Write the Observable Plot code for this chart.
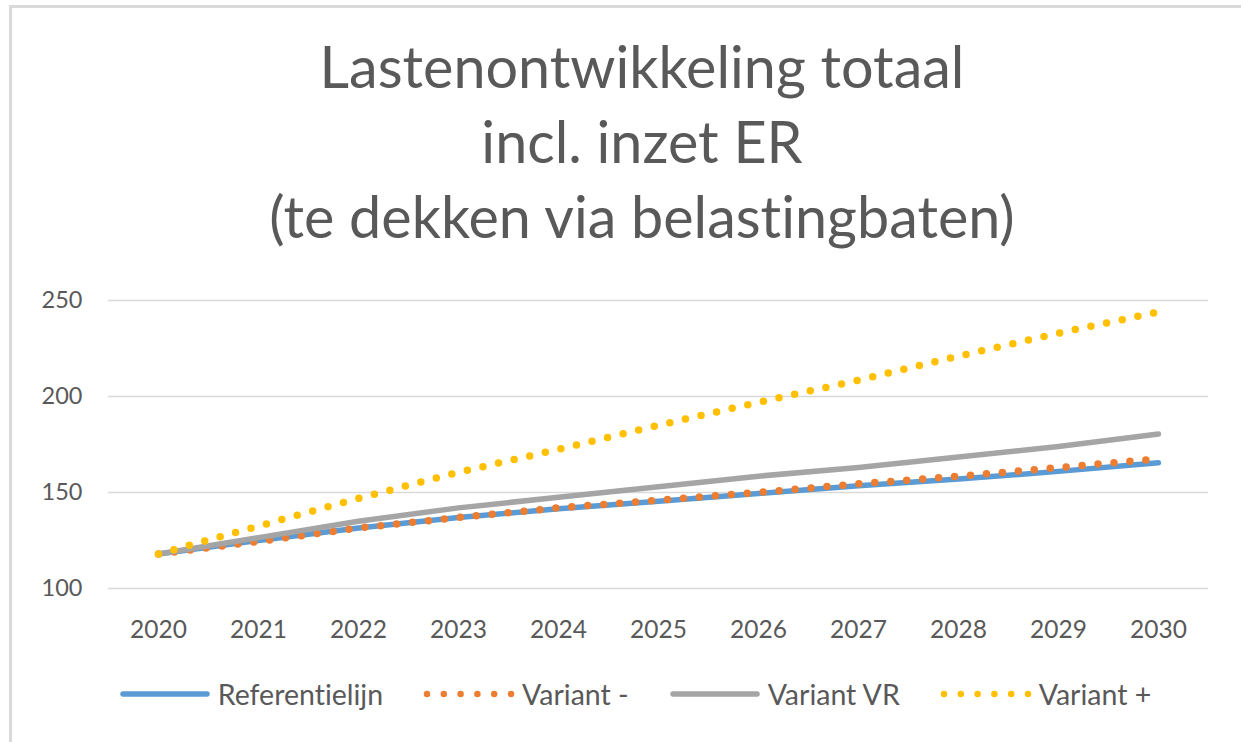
<!DOCTYPE html>
<html>
<head>
<meta charset="utf-8">
<script src="https://cdn.jsdelivr.net/npm/d3@7"></script>
<script src="https://cdn.jsdelivr.net/npm/@observablehq/plot@0.6"></script>
<style>
  html, body { margin: 0; padding: 0; background: #fff; }
  body { width: 1241px; height: 742px; position: relative; overflow: hidden; font-family: Lato, "Open Sans", sans-serif; color: #595959; font-variant-ligatures: none; }
  svg text { font-variant-ligatures: none; }
  #frame { position: absolute; left: 9px; top: 5px; width: 1300px; height: 800px; border-top: 3px solid #d9d9d9; border-left: 3px solid #d9d9d9; box-sizing: border-box; }
  #title { position: absolute; left: 342px; width: 600px; top: 28px; text-align: center; font-weight: 400; font-size: 57.5px; line-height: 75px; white-space: nowrap; }
  #title div { margin-left: -300px; margin-right: -300px; }
  #chart { position: absolute; left: 0; top: 280px; }
  #legend { position: absolute; left: 0; width: 1270px; top: 675px; display: flex; justify-content: center; gap: 40px; font-size: 28.5px; line-height: 38px; }
  .item { display: flex; align-items: center; gap: 7px; white-space: nowrap; }
  .item svg { display: block; }
</style>
</head>
<body>
<div id="frame"></div>
<div id="title"></div>
<div id="chart"></div>
<div id="legend"></div>
<script>
// ---- data ----
const titleLines = ["Lastenontwikkeling totaal", "incl. inzet ER", "(te dekken via belastingbaten)"];
const years = ["2020", "2021", "2022", "2023", "2024", "2025", "2026", "2027", "2028", "2029", "2030"];
const referentielijn = [118, 125, 131.5, 137, 141.5, 145.5, 149.5, 153.5, 157, 161, 165.5];
const variantMin     = [118, 124.5, 131.5, 137, 142, 146, 150, 154.5, 158.5, 163, 167.5];
const variantVR      = [118, 126.5, 135, 142, 147.5, 153, 158.5, 163, 168.5, 174, 180.5];
const variantPlus    = [118, 132.5, 147, 160.5, 172.5, 185, 197, 208.5, 221, 233, 244];
const seriesNames = ["Referentielijn", "Variant -", "Variant VR", "Variant +"];
const yTicks = [100, 150, 200, 250];

const seriesValues = [referentielijn, variantMin, variantVR, variantPlus];
const seriesColors = ["#5B9BD5", "#ED7D31", "#A5A5A5", "#FFC000"];
const seriesDotted = [false, true, false, true];

const rows = seriesNames.flatMap((name, s) =>
  years.map((year, i) => ({ series: name, year, value: seriesValues[s][i] })));

// ---- title ----
const titleEl = document.getElementById("title");
titleLines.forEach(t => { const d = document.createElement("div"); d.textContent = t; titleEl.appendChild(d); });

// ---- chart ----
const lineMarks = seriesNames.map((name, s) =>
  Plot.line(rows.filter(r => r.series === name), {
    x: "year", y: "value",
    stroke: seriesColors[s],
    strokeWidth: seriesDotted[s] ? 7.5 : 5.5,
    strokeDasharray: seriesDotted[s] ? "0 16" : null,
    strokeLinecap: "round",
    strokeLinejoin: "round"
  }));

const chart = Plot.plot({
  width: 1241,
  height: 380,
  marginLeft: 108,
  marginRight: 33,
  marginTop: 20,
  marginBottom: 72,
  style: { fontFamily: "Lato, 'Open Sans', sans-serif", color: "#595959", background: "transparent", overflow: "visible" },
  x: { type: "point", domain: years, padding: 0.5, label: null },
  y: { domain: [100, 250], label: null },
  marks: [
    Plot.gridY(yTicks, { stroke: "#d9d9d9", strokeOpacity: 1, strokeWidth: 1.5 }),
    ...lineMarks,
    Plot.axisY(yTicks, { tickSize: 0, tickPadding: 26, fontSize: 23.5, label: null }),
    Plot.axisX({ tickSize: 0, tickPadding: 32, fontSize: 24.5, label: null })
  ]
});
document.getElementById("chart").appendChild(chart);

// ---- legend ----
const legend = document.getElementById("legend");
seriesNames.forEach((name, s) => {
  const item = document.createElement("div");
  item.className = "item";
  const ns = "http://www.w3.org/2000/svg";
  const sw = document.createElementNS(ns, "svg");
  sw.setAttribute("width", 92); sw.setAttribute("height", 12);
  const ln = document.createElementNS(ns, "line");
  ln.setAttribute("x1", 4); ln.setAttribute("x2", 88); ln.setAttribute("y1", 6); ln.setAttribute("y2", 6);
  ln.setAttribute("stroke", seriesColors[s]);
  ln.setAttribute("stroke-linecap", "round");
  if (seriesDotted[s]) { ln.setAttribute("stroke-width", 6.5); ln.setAttribute("stroke-dasharray", "0 16.8"); }
  else { ln.setAttribute("stroke-width", 5.5); }
  sw.appendChild(ln);
  const tx = document.createElement("span");
  tx.textContent = name;
  item.appendChild(sw); item.appendChild(tx);
  legend.appendChild(item);
});
</script>
</body>
</html>
